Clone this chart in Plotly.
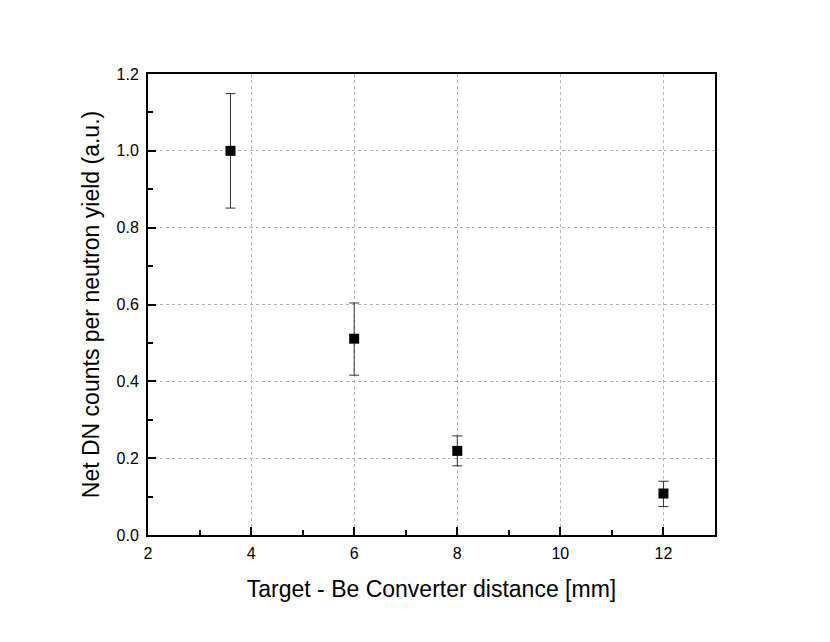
import plotly.graph_objects as go

distance_mm = [3.6, 6, 8, 12]
dn_counts = [1.0, 0.511, 0.219, 0.108]
err_plus = [0.149, 0.093, 0.039, 0.032]
err_minus = [0.149, 0.095, 0.039, 0.034]

font = "Liberation Sans, Arial, sans-serif"

fig = go.Figure()
fig.add_trace(go.Scatter(
    x=distance_mm, y=dn_counts,
    mode="markers",
    marker=dict(symbol="square", size=10, color="black"),
    error_y=dict(type="data", symmetric=False, array=err_plus, arrayminus=err_minus,
                 color="#333333", thickness=1, width=5),
    showlegend=False,
))

axis_common = dict(
    showline=True, linecolor="black", linewidth=2, mirror=True,
    ticks="inside", ticklen=8, tickwidth=2, tickcolor="black",
    showgrid=True, gridcolor="#b4b4b4", griddash="3px,3px", gridwidth=1,
    zeroline=False, tickfont=dict(family=font, size=16, color="black"),
)

fig.update_xaxes(
    range=[2, 13], dtick=2, tick0=2, ticklabelstandoff=3,
    minor=dict(dtick=1, ticks="inside", ticklen=5, tickwidth=2, tickcolor="black", showgrid=False),
    title=dict(text="Target - Be Converter distance [mm]", font=dict(family=font, size=23, color="black"),
               standoff=20),
    **axis_common,
)
fig.update_yaxes(
    range=[0, 1.2], dtick=0.2, tickformat=".1f", ticklabelstandoff=4,
    minor=dict(dtick=0.1, ticks="inside", ticklen=5, tickwidth=2, tickcolor="black", showgrid=False),
    title=dict(text="Net DN counts per neutron yield (a.u.)", font=dict(family=font, size=23, color="black"),
               standoff=10),
    **axis_common,
)

fig.update_layout(
    width=830, height=642,
    margin=dict(l=140, r=123, t=66, b=115),
    plot_bgcolor="white", paper_bgcolor="white",
)

fig.write_html("out.html")
